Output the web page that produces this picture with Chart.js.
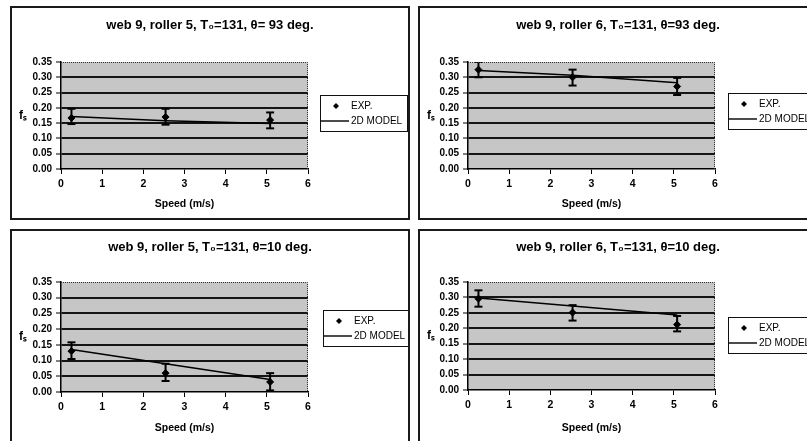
<!DOCTYPE html>
<html>
<head>
<meta charset="utf-8">
<script src="https://cdn.jsdelivr.net/npm/chart.js@4.4.0/dist/chart.umd.min.js"></script>
<style>
  body { margin: 0; background: #fff; width: 807px; height: 441px; overflow: hidden; position: relative; }
  .panel { position: absolute; outline: 2px solid #1a1a1a; outline-offset: -2px; background: #fff; }
  .panel canvas { display: block; }
</style>
</head>
<body>
<div class="panel" style="left:10px;top:6px;width:400px;height:214px"><canvas id="c1" width="400" height="214"></canvas></div>
<div class="panel" style="left:418px;top:6px;width:400px;height:214px"><canvas id="c2" width="400" height="214"></canvas></div>
<div class="panel" style="left:10px;top:229px;width:400px;height:215px"><canvas id="c3" width="400" height="215"></canvas></div>
<div class="panel" style="left:418px;top:229px;width:400px;height:215px"><canvas id="c4" width="400" height="215"></canvas></div>
<script>
// speeds: 50, 500, 1000 fpm in m/s
const speed = [0.254, 2.54, 5.08];
const xTicks = [0, 1, 2, 3, 4, 5, 6];
const yTicks = [0, 0.05, 0.10, 0.15, 0.20, 0.25, 0.30, 0.35];
const seriesNames = ['EXP.', '2D MODEL'];
const xTitle = 'Speed (m/s)';
const yTitle = 'f\u209B';

const titles = [
    'web 9, roller 5, T\u2080=131, \u03B8= 93 deg.',
    'web 9, roller 6, T\u2080=131, \u03B8=93 deg.',
    'web 9, roller 5, T\u2080=131, \u03B8=10 deg.',
    'web 9, roller 6, T\u2080=131, \u03B8=10 deg.'
];

// roller 5, 93 deg
const expR5a = [0.167, 0.170, 0.160];
const loR5a = [0.147, 0.145, 0.133];
const hiR5a = [0.197, 0.197, 0.185];
const modelR5a = [0.172, 0.158, 0.149];

// roller 6, 93 deg
const expR6a = [0.325, 0.300, 0.270];
const loR6a = [0.300, 0.273, 0.242];
const hiR6a = [0.350, 0.325, 0.298];
const modelR6a = [0.322, 0.307, 0.282];

// roller 5, 10 deg
const expR5b = [0.130, 0.060, 0.032];
const loR5b = [0.105, 0.035, 0.005];
const hiR5b = [0.158, 0.090, 0.060];
const modelR5b = [0.135, 0.090, 0.040];

// roller 6, 10 deg
const expR6b = [0.296, 0.251, 0.212];
const loR6b = [0.270, 0.225, 0.190];
const hiR6b = [0.323, 0.275, 0.240];
const modelR6b = [0.298, 0.272, 0.243];

const FONT = "'Liberation Sans', Arial, sans-serif";

// plot background, dotted frame, legend box and y label
const panelDeco = {
    id: 'panelDeco',
    beforeDraw(chart) {
        const { ctx, chartArea: a } = chart;
        ctx.save();
        ctx.fillStyle = '#c6c6c6';
        ctx.fillRect(a.left, a.top, a.right - a.left, a.bottom - a.top);
        ctx.restore();
    },
    afterDraw(chart, args, o) {
        const { ctx, chartArea: a } = chart;
        ctx.save();
        // dotted top / right edge of plot
        ctx.strokeStyle = '#333';
        ctx.lineWidth = 1;
        ctx.setLineDash([1, 1]);
        ctx.beginPath();
        ctx.moveTo(a.left, a.top + 0.5);
        ctx.lineTo(a.right - 0.5, a.top + 0.5);
        ctx.lineTo(a.right - 0.5, a.bottom);
        ctx.stroke();
        ctx.setLineDash([]);

        // y label
        ctx.fillStyle = '#000';
        ctx.font = 'bold 12px ' + FONT;
        ctx.textAlign = 'center';
        ctx.textBaseline = 'middle';
        ctx.fillText(yTitle, 13, (a.top + a.bottom) / 2);

        // legend
        const L = o.left, T = o.top;
        ctx.strokeStyle = '#111';
        ctx.lineWidth = 1;
        ctx.strokeRect(L + 0.5, T + 0.5, 87, 36);
        ctx.font = '10px ' + FONT;
        ctx.textAlign = 'left';
        const y1 = T + 11, y2 = T + 26;
        ctx.beginPath();
        ctx.moveTo(L + 16, y1 - 3);
        ctx.lineTo(L + 19, y1);
        ctx.lineTo(L + 16, y1 + 3);
        ctx.lineTo(L + 13, y1);
        ctx.closePath();
        ctx.fill();
        ctx.fillText(chart.data.datasets[0].label, L + 31, y1);
        ctx.lineWidth = 1.5;
        ctx.beginPath();
        ctx.moveTo(L, y2);
        ctx.lineTo(L + 29, y2);
        ctx.stroke();
        ctx.fillText(chart.data.datasets[1].label, L + 31, y2);
        ctx.restore();
    }
};

function makeChart(id, title, exp, lo, hi, model, box) {
    const canvas = document.getElementById(id);
    const W = canvas.width, H = canvas.height;

    const datasets = [
        {
            label: seriesNames[0],
            data: speed.map((s, i) => ({ x: s, y: exp[i] })),
            pointStyle: 'rectRot',
            pointRadius: 3.5,
            backgroundColor: '#000',
            borderColor: '#000',
            showLine: false
        },
        {
            label: seriesNames[1],
            data: speed.map((s, i) => ({ x: s, y: model[i] })),
            showLine: true,
            borderColor: '#000',
            borderWidth: 1.5,
            pointRadius: 0
        }
    ];
    // error bars with caps
    speed.forEach((s, i) => {
        datasets.push({
            label: 'err',
            data: [{ x: s, y: lo[i] }, { x: s, y: hi[i] }],
            showLine: true,
            borderColor: '#000',
            borderWidth: 2,
            pointStyle: 'line',
            pointRadius: 4,
            pointBorderWidth: 2,
            pointBorderColor: '#000'
        });
    });

    const lh = 15.6;
    return new Chart(canvas, {
        type: 'scatter',
        data: { datasets },
        options: {
            responsive: false,
            animation: false,
            devicePixelRatio: 1,
            layout: { padding: 0 },
            plugins: {
                legend: { display: false },
                tooltip: { enabled: false },
                title: {
                    display: true,
                    text: title,
                    color: '#000',
                    font: { family: FONT, size: 13, weight: 'bold' },
                    padding: { top: box.titleY - lh / 2, bottom: box.top - box.titleY - lh / 2 }
                },
                panelDeco: { left: box.legendLeft, top: box.legendTop }
            },
            scales: {
                x: {
                    type: 'linear',
                    min: 0,
                    max: 6,
                    afterFit(s) { s.height = H - box.bottom; },
                    afterBuildTicks(s) { s.ticks = xTicks.map(v => ({ value: v })); },
                    ticks: { color: '#000', padding: 4, autoSkip: false, font: { family: FONT, size: 10.5, weight: 'bold' } },
                    grid: { drawOnChartArea: false, tickLength: 5, color: '#000' },
                    border: { color: '#000', width: 1.5 },
                    title: {
                        display: true,
                        text: xTitle,
                        color: '#000',
                        padding: { top: 0, bottom: 10 },
                        font: { family: FONT, size: 10.5, weight: 'bold' }
                    }
                },
                y: {
                    min: 0,
                    max: 0.35,
                    afterFit(s) { s.width = box.left; },
                    afterBuildTicks(s) { s.ticks = yTicks.map(v => ({ value: v })); },
                    ticks: {
                        color: '#000',
                        padding: 4,
                        autoSkip: false,
                        font: { family: FONT, size: 10, weight: 'bold' },
                        callback: v => v.toFixed(2)
                    },
                    grid: {
                        color: c => (c.tick && c.tick.value > 0.001 && c.tick.value < 0.349) ? '#151515' : 'rgba(0,0,0,0)',
                        lineWidth: 2,
                        tickLength: 5,
                        tickColor: '#000',
                        tickWidth: 1
                    },
                    border: { color: '#000', width: 1.5 }
                },
                // empty right-hand box that holds the legend space
                side: {
                    position: 'right',
                    min: 0,
                    max: 1,
                    afterFit(s) { s.width = W - box.right; },
                    ticks: { display: false },
                    grid: { display: false, drawTicks: false },
                    border: { display: false }
                }
            }
        },
        plugins: [panelDeco]
    });
}

makeChart('c1', titles[0], expR5a, loR5a, hiR5a, modelR5a,
    { left: 51, right: 298, top: 56, bottom: 163, titleY: 19, legendLeft: 310, legendTop: 89 });
makeChart('c2', titles[1], expR6a, loR6a, hiR6a, modelR6a,
    { left: 50, right: 297, top: 56, bottom: 163, titleY: 19, legendLeft: 310, legendTop: 87 });
makeChart('c3', titles[2], expR5b, loR5b, hiR5b, modelR5b,
    { left: 51, right: 298, top: 53, bottom: 163, titleY: 18, legendLeft: 313, legendTop: 81 });
makeChart('c4', titles[3], expR6b, loR6b, hiR6b, modelR6b,
    { left: 50, right: 297, top: 53, bottom: 161, titleY: 18, legendLeft: 310, legendTop: 88 });
</script>
</body>
</html>
